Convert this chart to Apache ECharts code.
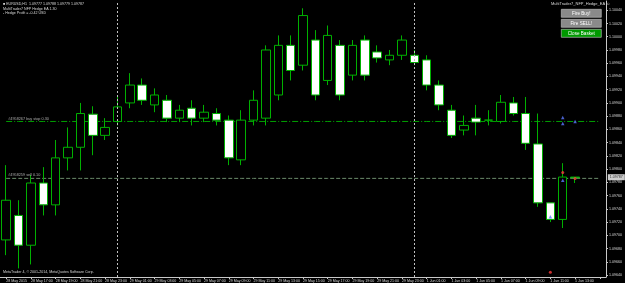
<!DOCTYPE html>
<html><head><meta charset="utf-8">
<script src="https://cdn.jsdelivr.net/npm/echarts@6/dist/echarts.min.js"></script>
<style>html,body{margin:0;padding:0;background:#000;}#c{width:625px;height:283px;}</style>
</head><body><div id="c"></div>
<script>
const TIMES = [
 '28 May 15:00','28 May 16:00','28 May 17:00','28 May 18:00','28 May 19:00','28 May 20:00','28 May 21:00','28 May 22:00','28 May 23:00',
 '29 May 00:00','29 May 01:00','29 May 02:00','29 May 03:00','29 May 04:00','29 May 05:00','29 May 06:00','29 May 07:00','29 May 08:00',
 '29 May 09:00','29 May 10:00','29 May 11:00','29 May 12:00','29 May 13:00','29 May 14:00','29 May 15:00','29 May 16:00','29 May 17:00',
 '29 May 18:00','29 May 19:00','29 May 20:00','29 May 21:00','29 May 22:00','29 May 23:00',
 '1 Jun 00:00','1 Jun 01:00','1 Jun 02:00','1 Jun 03:00','1 Jun 04:00','1 Jun 05:00','1 Jun 06:00','1 Jun 07:00','1 Jun 08:00',
 '1 Jun 09:00','1 Jun 10:00','1 Jun 11:00','1 Jun 12:00','1 Jun 13:00','',''
];
const FIRST_LABEL = '28 May 2015';
const OPEN  = [1.09693,1.09730,1.09685,1.09779,1.09746,1.09817,1.09833,1.09883,1.09851,1.09872,1.09900,1.09927,1.09897,1.09904,1.09877,1.09892,1.09877,1.09884,1.09874,1.09814,1.09874,1.09877,1.09912,1.09987,1.09957,1.09995,1.09934,1.09987,1.09942,1.09995,1.09977,1.09965,1.09972,1.09972,1.09965,1.09927,1.09889,1.09859,1.09877,1.09874,1.09872,1.09900,1.09884,1.09838,1.09749,1.09724,1.09788];
const CLOSE = [1.09753,1.09685,1.09779,1.09746,1.09817,1.09833,1.09884,1.09851,1.09863,1.09894,1.09927,1.09904,1.09912,1.09877,1.09889,1.09877,1.09886,1.09874,1.09817,1.09874,1.09904,1.09980,1.09987,1.09949,1.10032,1.09912,1.10002,1.09912,1.09987,1.09942,1.09968,1.09972,1.09995,1.09961,1.09927,1.09897,1.09851,1.09866,1.09871,1.09874,1.09901,1.09884,1.09839,1.09749,1.09724,1.09788,1.09787];
const LOW   = [1.09670,1.09650,1.09656,1.09730,1.09730,1.09798,1.09798,1.09821,1.09844,1.09866,1.09892,1.09897,1.09886,1.09871,1.09871,1.09866,1.09871,1.09866,1.09806,1.09806,1.09866,1.09866,1.09904,1.09934,1.09949,1.09904,1.09927,1.09904,1.09934,1.09934,1.09961,1.09957,1.09965,1.09957,1.09919,1.09889,1.09847,1.09851,1.09851,1.09866,1.09869,1.09881,1.09829,1.09743,1.09720,1.09711,1.09779];
const HIGH  = [1.09806,1.09753,1.09791,1.09803,1.09844,1.09863,1.09900,1.09895,1.09877,1.09909,1.09945,1.09937,1.09922,1.09912,1.09897,1.09904,1.09897,1.09892,1.09881,1.09889,1.09919,1.09987,1.10002,1.10002,1.10043,1.10010,1.10017,1.09995,1.09995,1.10002,1.09987,1.09980,1.10002,1.09980,1.09972,1.09934,1.09897,1.09881,1.09897,1.09889,1.09912,1.09909,1.09909,1.09884,1.09749,1.09809,1.09788];
const PRICE_TICKS = [1.09640,1.09660,1.09680,1.09700,1.09720,1.09740,1.09760,1.09780,1.09800,1.09820,1.09840,1.09860,1.09880,1.09900,1.09920,1.09940,1.09960,1.09980,1.10000,1.10020,1.10040];
const BUY_STOP = 1.09872;
const SELL_PRICE = 1.09786;
const BID = 1.09787;
const SEPARATORS = ['29 May 00:00', '1 Jun 00:00'];
const INFO_LINES = ['\u25A0 EURUSD,H1  1.09777 1.09788 1.09779 1.09787', 'MultiTrader7 NFP Hedge EA 1.30', '- Hedge Profit = -0.42 USD'];
const BLUE_MARK_TIMES  = ['1 Jun 12:00','1 Jun 12:00','1 Jun 13:00','1 Jun 12:00','1 Jun 11:00'];
const BLUE_MARK_PRICES = [1.09878, 1.09869, 1.09872, 1.09783, 1.09728];
const RED_MARK_TIMES   = ['1 Jun 12:00','1 Jun 13:00','1 Jun 11:00'];
const RED_MARK_PRICES  = [1.09795, 1.09786, 1.09644];

const chart = echarts.init(document.getElementById('c'), null, {renderer: 'canvas'});
const FONT = 'Liberation Sans';
const candles = OPEN.map((o, i) => [o, CLOSE[i], LOW[i], HIGH[i]]);
const levelLine = (v, style) => ({
  type: 'line', data: TIMES.map(() => v), silent: true, showSymbol: false, symbol: 'none',
  lineStyle: style, z: 1
});
const textPoint = (t, v, label) => ({
  type: 'scatter', silent: true, symbolSize: 0, clip: false, z: 5,
  data: [{value: [t, v], label: Object.assign({show: true, fontFamily: FONT}, label)}]
});

chart.setOption({
  backgroundColor: '#000',
  animation: false,
  grid: {left: -5, right: 17, top: 1, bottom: 6},
  xAxis: {
    type: 'category', data: TIMES, boundaryGap: true,
    axisLine: {show: true, lineStyle: {color: '#c8c8c8', width: 1}},
    axisTick: {show: true, interval: 1, alignWithLabel: true, length: 2, lineStyle: {color: '#c8c8c8'}},
    axisLabel: {show: true, interval: 1, align: 'left', margin: 2, color: '#d8d8d8', fontSize: 3.6, fontFamily: FONT,
      formatter: (v, i) => i === 0 ? FIRST_LABEL : v},
    splitLine: {show: false}
  },
  yAxis: {
    type: 'value', position: 'right', min: 1.09637, max: 1.10054, scale: true,
    axisLine: {show: true, lineStyle: {color: '#c8c8c8', width: 1}},
    axisTick: {show: true, length: 2, customValues: PRICE_TICKS, lineStyle: {color: '#c8c8c8'}},
    axisLabel: {show: true, customValues: PRICE_TICKS, margin: 3, color: '#d8d8d8', fontSize: 3.6, fontFamily: FONT,
      formatter: v => v.toFixed(5)},
    splitLine: {show: false}
  },
  series: [
    levelLine(BUY_STOP, {color: '#00a000', type: [6, 2, 1, 2], width: 1}),
    levelLine(SELL_PRICE, {color: '#6a8a6a', type: [4, 2], width: 1}),
    {
      type: 'candlestick', data: candles, barWidth: 9, z: 3,
      itemStyle: {color: '#000', color0: '#fff', borderColor: '#00b000', borderColor0: '#00b000', borderWidth: 1},
      markLine: {
        silent: true, symbol: ['none', 'none'], animation: false,
        data: SEPARATORS.map(s => ({xAxis: s, lineStyle: {color: '#c0c0c0', type: [2, 2], width: 1}, label: {show: false}}))
      }
    },
    textPoint(TIMES[0], BUY_STOP, {position: [2, -5], formatter: '#4958267 buy stop 0.30', color: '#d0d0d0', fontSize: 3.8}),
    textPoint(TIMES[0], SELL_PRICE, {position: [2, -5], formatter: '#4958259 sell 0.10', color: '#d0d0d0', fontSize: 3.8}),
    textPoint(TIMES[TIMES.length - 1], BID, {position: [8, -3.5], formatter: BID.toFixed(5), color: '#000', backgroundColor: '#fff', padding: [1, 2], fontSize: 3.6}),
    {
      type: 'scatter', silent: true, symbol: 'triangle', symbolSize: 3.5, z: 4,
      itemStyle: {color: '#5a78ff'},
      data: BLUE_MARK_TIMES.map((t, i) => [t, BLUE_MARK_PRICES[i]])
    }, {
      type: 'scatter', silent: true, symbol: 'circle', symbolSize: 3, z: 4,
      itemStyle: {color: '#ff3a3a'},
      data: RED_MARK_TIMES.map((t, i) => [t, RED_MARK_PRICES[i]])
    }
  ],
  graphic: [
    ...INFO_LINES.map((t, i) => ({type: 'text', left: 3, top: 2 + i * 4.7, style: {text: t, fill: '#d8d8d8', font: '3.6px ' + FONT}})),
    {type: 'text', left: 551, top: 2, style: {text: 'MultiTrader7_NFP_Hedge_EA \u263A', fill: '#d8d8d8', font: '4px ' + FONT}},
    {type: 'group', left: 561, top: 9, children: [
      {type: 'rect', shape: {x: 0, y: 0, width: 40, height: 8}, style: {fill: '#8a8a8a', stroke: '#c8c8c8', lineWidth: 0.6}},
      {type: 'text', style: {x: 20, y: 4, text: 'Fire Buy!', fill: '#fff', font: '4.6px ' + FONT, align: 'center', verticalAlign: 'middle'}}
    ]},
    {type: 'group', left: 561, top: 19, children: [
      {type: 'rect', shape: {x: 0, y: 0, width: 40, height: 8}, style: {fill: '#8a8a8a', stroke: '#c8c8c8', lineWidth: 0.6}},
      {type: 'text', style: {x: 20, y: 4, text: 'Fire SELL!', fill: '#fff', font: '4.6px ' + FONT, align: 'center', verticalAlign: 'middle'}}
    ]},
    {type: 'group', left: 561, top: 29, children: [
      {type: 'rect', shape: {x: 0, y: 0, width: 40, height: 8}, style: {fill: '#009a00', stroke: '#c8c8c8', lineWidth: 0.6}},
      {type: 'text', style: {x: 20, y: 4, text: 'Close Basket', fill: '#fff', font: '4.6px ' + FONT, align: 'center', verticalAlign: 'middle'}}
    ]},
    {type: 'text', left: 3, top: 270, style: {text: 'MetaTrader 4, \u00A9 2001-2014, MetaQuotes Software Corp.', fill: '#d8d8d8', font: '3.6px ' + FONT}}
  ]
});
</script></body></html>
